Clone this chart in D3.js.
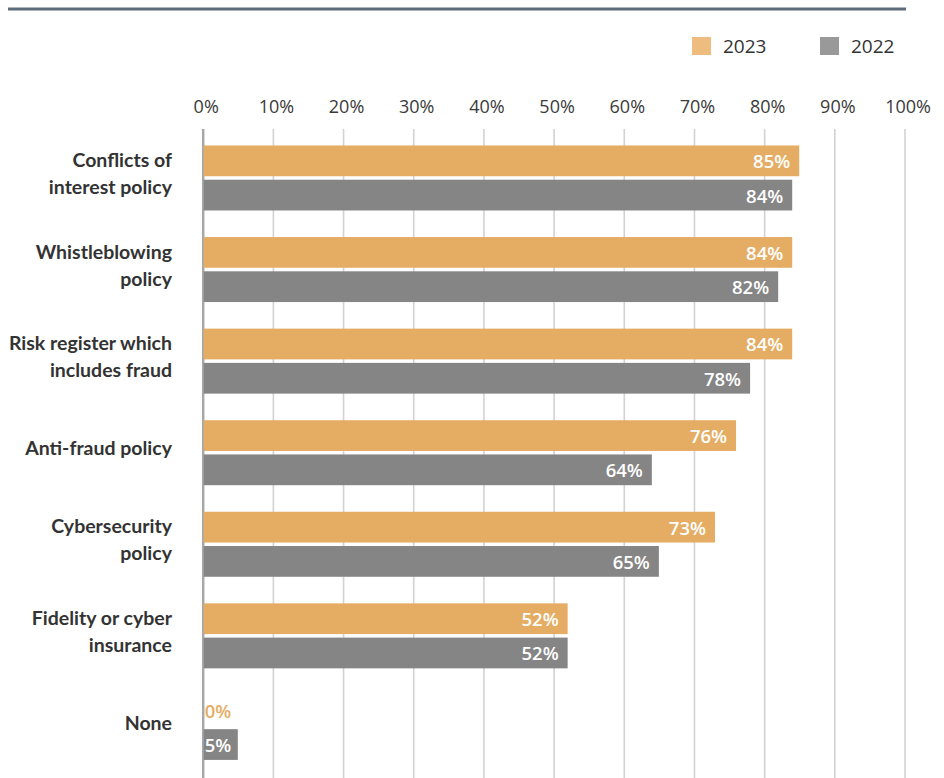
<!DOCTYPE html>
<html>
<head>
<meta charset="utf-8">
<script src="https://cdn.jsdelivr.net/npm/d3@7"></script>
<style>
  html, body { margin: 0; padding: 0; background: #ffffff; }
  svg { display: block; }
</style>
</head>
<body>
<div id="chart"></div>
<script>
// Controls in place: share of respondents, 2023 vs 2022
const categories = [
  ["Conflicts of", "interest policy"],
  ["Whistleblowing", "policy"],
  ["Risk register which", "includes fraud"],
  ["Anti-fraud policy"],
  ["Cybersecurity", "policy"],
  ["Fidelity or cyber", "insurance"],
  ["None"]
];
const values2023 = [85, 84, 84, 76, 73, 52, 0];
const values2022 = [84, 82, 78, 64, 65, 52, 5];
const seriesNames = ["2023", "2022"];
const tickValues = [0, 10, 20, 30, 40, 50, 60, 70, 80, 90, 100];

const W = 944, H = 778;
const colors = { "2023": "#E5AD64", "2022": "#858585" };
const legendColors = { "2023": "#EDBC7E", "2022": "#999999" };

const svg = d3.select("#chart").append("svg")
  .attr("width", W).attr("height", H);

// Header rule
svg.append("line")
  .attr("x1", 8).attr("x2", 906).attr("y1", 9).attr("y2", 9)
  .attr("stroke", "#5E6B7B").attr("stroke-width", 3);

// Legend
const legend = svg.append("g").attr("font-family", "'Open Sans', sans-serif");
const legendX = { "2023": 692, "2022": 820 };
seriesNames.forEach(s => {
  legend.append("rect")
    .attr("x", legendX[s]).attr("y", 37).attr("width", 19).attr("height", 18)
    .attr("fill", legendColors[s]);
  legend.append("text")
    .attr("x", legendX[s] + 31).attr("y", 53)
    .attr("font-size", 19).attr("fill", "#333")
    .text(s);
});

const plotTop = 129;
const x = d3.scaleLinear().domain([0, 100]).range([202.7, 904.5]);

const keys = categories.map(c => c.join(" "));
const y = d3.scaleBand().domain(keys)
  .range([132.2, 773.2]).paddingInner(0.2902).paddingOuter(0.145);
const ySub = d3.scaleBand().domain(seriesNames)
  .range([0, y.bandwidth()]).paddingInner(0.1022);

// Grid + axis labels
const axis = d3.axisTop(x)
  .tickValues(tickValues)
  .tickFormat(d => d + "%")
  .tickSize(-(H - plotTop))
  .tickPadding(16);

const gAxis = svg.append("g")
  .attr("transform", `translate(0,${plotTop})`)
  .call(axis);
gAxis.select(".domain").remove();
gAxis.selectAll(".tick line")
  .attr("stroke", d => d === 0 ? "#A8A8A8" : "#D2D2D2")
  .attr("stroke-width", d => d === 0 ? 2.5 : 1.6);
gAxis.selectAll(".tick text")
  .attr("font-family", "'Open Sans', sans-serif")
  .attr("font-size", 18)
  .attr("fill", "#3a3a3a")
  .attr("dx", 3);

// Bars
const rows = keys.map((k, i) => ({
  key: k,
  lines: categories[i],
  series: [
    { name: "2023", value: values2023[i] },
    { name: "2022", value: values2022[i] }
  ]
}));

const group = svg.append("g").selectAll("g.row")
  .data(rows).enter().append("g")
  .attr("class", "row")
  .attr("transform", d => `translate(0,${y(d.key)})`);

group.selectAll("rect")
  .data(d => d.series).enter().append("rect")
  .attr("x", x(0) + 1)
  .attr("y", d => ySub(d.name))
  .attr("width", d => Math.max(0, x(d.value) - x(0) - 1))
  .attr("height", ySub.bandwidth())
  .attr("fill", d => colors[d.name]);

// Value labels
group.selectAll("text.val")
  .data(d => d.series).enter().append("text")
  .attr("class", "val")
  .attr("font-family", "'Open Sans', sans-serif")
  .attr("font-weight", 600)
  .attr("font-size", 18.5)
  .attr("dominant-baseline", "central")
  .attr("y", d => ySub(d.name) + ySub.bandwidth() / 2)
  .each(function (d) {
    const wide = x(d.value) - x(0) > 50;
    d3.select(this)
      .attr("text-anchor", wide ? "end" : "start")
      .attr("x", wide ? x(d.value) - 9 : x(0) + 2)
      .attr("fill", d.value === 0 ? colors[d.name] : "#ffffff");
  })
  .text(d => d.value + "%");

// Category labels
const lineH = 27;
group.append("text")
  .attr("font-family", "Lato, sans-serif")
  .attr("font-weight", 700)
  .attr("font-size", 19.5)
  .attr("fill", "#333")
  .attr("text-anchor", "end")
  .each(function (d) {
    const t = d3.select(this);
    const n = d.lines.length;
    const mid = y.bandwidth() / 2 - 5;
    d.lines.forEach((ln, j) => {
      t.append("tspan")
        .attr("x", 172)
        .attr("y", mid + (j - (n - 1) / 2) * lineH)
        .attr("dominant-baseline", "central")
        .text(ln);
    });
  });
</script>
</body>
</html>
